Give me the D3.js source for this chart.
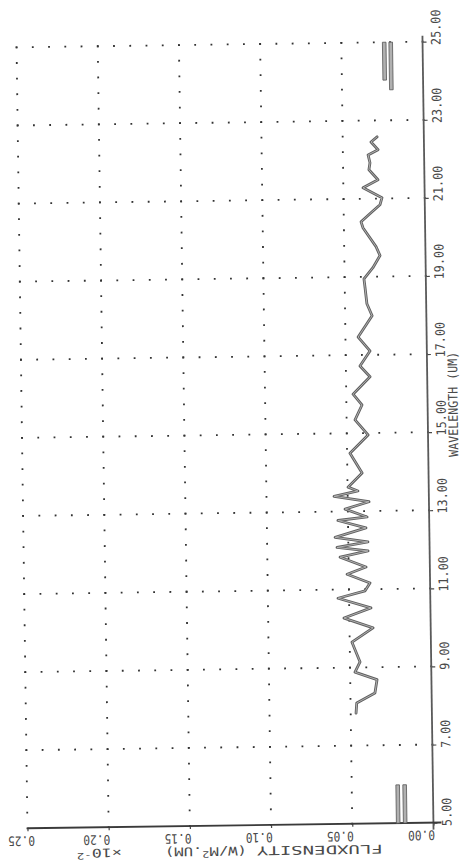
<!DOCTYPE html>
<html>
<head>
<meta charset="utf-8">
<script src="https://cdn.jsdelivr.net/npm/d3@7"></script>
<style>
  html, body { margin: 0; padding: 0; background: #ffffff; }
  svg { display: block; }
</style>
</head>
<body>
<script>
// Axis ticks
const wavelengthTicks = [5, 7, 9, 11, 13, 15, 17, 19, 21, 23, 25];
const fluxTicks = [0, 0.05, 0.10, 0.15, 0.20, 0.25];

// Spectrum: wavelength (um) and flux density (x10^-2 W/m2.um)
const spectrumWavelength = [7.83, 8.09, 8.34, 8.68, 8.88, 9.14, 9.65, 10.01, 10.27, 10.52,
  10.78, 10.96, 11.16, 11.39, 11.57, 11.83, 11.98, 12.08, 12.21, 12.34,
  12.57, 12.77, 12.85, 13.06, 13.24, 13.39, 13.52, 13.62, 13.98, 14.49,
  14.95, 15.34, 15.72, 16.00, 16.44, 16.72, 17.10, 17.46, 18.00, 18.31,
  18.72, 18.95, 19.23, 19.54, 19.77, 20.25, 20.41, 20.64, 20.84, 21.02,
  21.28, 21.48, 21.74, 21.92, 22.12, 22.25, 22.45, 22.58];
const spectrumFlux = [0.0467, 0.0462, 0.0349, 0.0335, 0.0470, 0.0438, 0.0486, 0.0355, 0.0533, 0.0366,
  0.0568, 0.0401, 0.0370, 0.0510, 0.0393, 0.0552, 0.0379, 0.0570, 0.0379, 0.0581,
  0.0390, 0.0562, 0.0382, 0.0517, 0.0369, 0.0584, 0.0436, 0.0497, 0.0409, 0.0482,
  0.0369, 0.0448, 0.0404, 0.0458, 0.0352, 0.0413, 0.0350, 0.0422, 0.0334, 0.0365,
  0.0375, 0.0381, 0.0325, 0.0280, 0.0304, 0.0382, 0.0394, 0.0332, 0.0276, 0.0263,
  0.0379, 0.0286, 0.0341, 0.0334, 0.0345, 0.0283, 0.0326, 0.0288];

// Reference bars (flux, wavelength from, wavelength to)
const barFlux = [0.0236, 0.0196, 0.0217, 0.0174];
const barWlFrom = [24.03, 23.78, 5.0, 5.0];
const barWlTo = [25.0, 25.0, 5.98, 5.98];

const W = 467, H = 865;
const frame = { left: 22, right: 428, top: 44.5, bottom: 825.5 };
const ink = "#4a4a4a";

const svg = d3.select("body").append("svg")
  .attr("width", W).attr("height", H)
  .attr("viewBox", `0 0 ${W} ${H}`);

const x = d3.scaleLinear().domain([0, 0.25]).range([frame.right, frame.left]);
const y = d3.scaleLinear().domain([5, 25]).range([frame.bottom, frame.top]);

// the whole sheet sits slightly askew
const g = svg.append("g").attr("transform", "rotate(-0.8,225,435)");

// dotted grid: rows at each wavelength tick, columns at each flux tick
const gridDots = [];
wavelengthTicks.filter(w => w > 5).forEach(w => {
  d3.range(0, 26).forEach(i => gridDots.push([i * 0.01, w]));
});
fluxTicks.filter(f => f > 0).forEach(f => {
  d3.range(0, 51).forEach(i => gridDots.push([f, 5 + i * 0.4]));
});
g.append("g").selectAll("rect").data(gridDots).join("rect")
  .attr("x", d => x(d[0]) - 0.9)
  .attr("y", d => y(d[1]) - 0.9)
  .attr("width", 1.8).attr("height", 1.8)
  .attr("fill", "#333");

// axes
const axisR = d3.axisRight(y)
  .tickValues(wavelengthTicks)
  .tickFormat(d3.format(".2f"))
  .tickSize(4);
const gR = g.append("g").attr("transform", `translate(${frame.right},0)`).call(axisR);
gR.select(".domain").remove();
gR.selectAll(".tick line").attr("stroke", ink).attr("stroke-width", 1.2);
gR.selectAll(".tick text")
  .attr("x", null).attr("dy", null)
  .attr("transform", "translate(18,3) rotate(-90)")
  .attr("text-anchor", "start")
  .attr("font-family", "'DejaVu Sans Mono', monospace")
  .attr("font-size", 13)
  .attr("fill", ink)
  .attr("textLength", function () { return this.textContent.length * 7.3 - 1; })
  .attr("lengthAdjust", "spacingAndGlyphs");

const axisB = d3.axisBottom(x)
  .tickValues(fluxTicks)
  .tickFormat(d3.format(".2f"))
  .tickSize(3);
const gB = g.append("g").attr("transform", `translate(0,${frame.bottom})`).call(axisB);
gB.select(".domain").remove();
gB.selectAll(".tick line").attr("stroke", ink).attr("stroke-width", 1.2);
gB.selectAll(".tick text")
  .attr("y", null).attr("dy", null)
  // keep the outermost label on the sheet
  .attr("transform", d => `translate(${Math.max(1, 29 - x(d))},8) rotate(180)`)
  .attr("text-anchor", "start")
  .attr("font-family", "'DejaVu Sans Mono', monospace")
  .attr("font-size", 13)
  .attr("fill", ink)
  .attr("textLength", 27)
  .attr("lengthAdjust", "spacingAndGlyphs");

// solid axis lines
g.append("line")
  .attr("x1", frame.right).attr("x2", frame.right)
  .attr("y1", frame.top - 6).attr("y2", frame.bottom + 7)
  .attr("stroke", "#5a5a5a").attr("stroke-width", 1.8);
g.append("line")
  .attr("x1", frame.left).attr("x2", frame.right + 8)
  .attr("y1", frame.bottom).attr("y2", frame.bottom)
  .attr("stroke", "#3a3a3a").attr("stroke-width", 1.9);

// axis titles
g.append("text")
  .attr("transform", `translate(${frame.right + 30},460) rotate(-90)`)
  .attr("text-anchor", "start")
  .attr("font-family", "'DejaVu Sans Mono', monospace")
  .attr("font-size", 13).attr("fill", ink)
  .attr("textLength", 105).attr("lengthAdjust", "spacingAndGlyphs")
  .text("WAVELENGTH (UM)");

const flipped = (tx, ty, len) => g.append("text")
  .attr("transform", `translate(${tx},${ty}) rotate(180)`)
  .attr("text-anchor", "start")
  .attr("font-family", "'DejaVu Sans Mono', monospace")
  .attr("font-size", 12).attr("fill", ink)
  .attr("textLength", len).attr("lengthAdjust", "spacingAndGlyphs");

flipped(377, 847, 126).text("FLUXDENSITY");
const t2 = flipped(241, 847, 82);
t2.append("tspan").text("(W/M");
t2.append("tspan").attr("dy", -4).attr("font-size", 9).text("2");
t2.append("tspan").attr("dy", 4).text(".UM)");
const t3 = flipped(116, 847, 45);
t3.append("tspan").text("\u00d710");
t3.append("tspan").attr("dy", -4).attr("font-size", 9).text("-2");

// reference bars
g.append("g").selectAll("rect").data(barFlux).join("rect")
  .attr("x", d => x(d) - 1.8)
  .attr("y", (d, i) => y(barWlTo[i]))
  .attr("width", 3.6)
  .attr("height", (d, i) => y(barWlFrom[i]) - y(barWlTo[i]))
  .attr("fill", "#b0b0b0")
  .attr("stroke", "#555").attr("stroke-width", 0.8);

// spectrum, drawn as a pen trace with a light core
const pts = spectrumWavelength.map((w, i) => [spectrumFlux[i], w]);
const line = d3.line()
  .x(d => x(d[0]))
  .y(d => y(d[1]))
  .curve(d3.curveLinear);
g.append("path").datum(pts)
  .attr("d", line)
  .attr("fill", "none")
  .attr("stroke", "#606060").attr("stroke-width", 2.8)
  .attr("stroke-linejoin", "round").attr("stroke-linecap", "round");
g.append("path").datum(pts)
  .attr("d", line)
  .attr("fill", "none")
  .attr("stroke", "#b8b8b8").attr("stroke-width", 0.9)
  .attr("stroke-linejoin", "round").attr("stroke-linecap", "round");
</script>
</body>
</html>
